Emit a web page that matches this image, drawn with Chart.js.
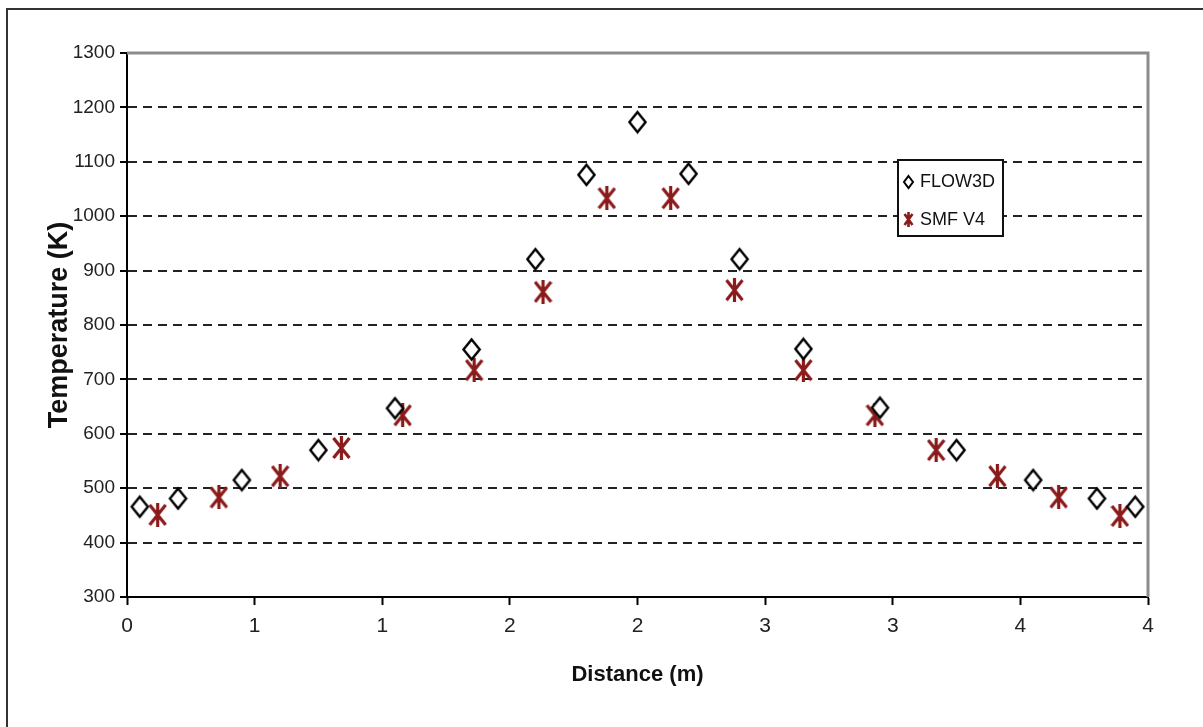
<!DOCTYPE html>
<html>
<head>
<meta charset="utf-8">
<title>Temperature vs Distance</title>
<script src="https://cdn.jsdelivr.net/npm/chart.js@4.4.1/dist/chart.umd.min.js"></script>
<style>
    html, body { margin: 0; padding: 0; background: #fff; }
    #chartBox { width: 1203px; height: 727px; }
</style>
</head>
<body>
<div id="chartBox"><canvas id="tempChart" width="1203" height="727"></canvas></div>
<script>
// valores
const flowDistance = [0.05, 0.2, 0.45, 0.75, 1.05, 1.35, 1.6, 1.8, 2.0, 2.2, 2.4, 2.65, 2.95, 3.25, 3.55, 3.8, 3.95];
const flowTemp = [466, 481, 515, 570, 647, 755, 921, 1076, 1173, 1078, 921, 756, 648, 570, 515, 481, 466];

const smfDistance = [0.12, 0.36, 0.6, 0.84, 1.08, 1.36, 1.63, 1.88, 2.13, 2.38, 2.65, 2.93, 3.17, 3.41, 3.65, 3.89];
const smfTemp = [451, 483, 522, 574, 634, 717, 861, 1033, 1033, 864, 717, 634, 570, 522, 483, 449];

const xTickLabels = ['0', '1', '1', '2', '2', '3', '3', '4', '4'];
const seriesNames = ['FLOW3D', 'SMF V4'];

const darkRed = '#8b1a1a';

function makeDiamond(w, h, lw) {
    const c = document.createElement('canvas');
    c.width = w; c.height = h;
    const g = c.getContext('2d');
    g.fillStyle = '#fff';
    g.strokeStyle = '#000';
    g.lineWidth = lw;
    g.beginPath();
    g.moveTo(w / 2, lw);
    g.lineTo(w - lw, h / 2);
    g.lineTo(w / 2, h - lw);
    g.lineTo(lw, h / 2);
    g.closePath();
    g.fill();
    g.stroke();
    return c;
}

function makeStar(w, h, lw) {
    const c = document.createElement('canvas');
    c.width = w; c.height = h;
    const g = c.getContext('2d');
    g.strokeStyle = darkRed;
    g.lineWidth = lw;
    g.lineCap = 'butt';
    g.beginPath();
    g.moveTo(w / 2, 0); g.lineTo(w / 2, h);
    g.moveTo(1.5, 2); g.lineTo(w - 1.5, h - 2);
    g.moveTo(w - 1.5, 2); g.lineTo(1.5, h - 2);
    g.stroke();
    return c;
}

const diamondImg = makeDiamond(21, 25, 2.4);
const starImg = makeStar(19, 24, 3.2);
const diamondSmall = makeDiamond(13, 16, 2);
const starSmall = makeStar(11, 15, 2.6);

const frameAndLegend = {
    id: 'frameAndLegend',
    beforeDraw(chart) {
        const c = chart.ctx;
        c.save();
        c.strokeStyle = '#333';
        c.lineWidth = 2;
        c.beginPath();
        c.moveTo(7, 740);
        c.lineTo(7, 9);
        c.lineTo(1210, 9);
        c.stroke();
        c.restore();
    },
    afterDatasetsDraw(chart) {
        const c = chart.ctx;
        const a = chart.chartArea;
        c.save();
        c.strokeStyle = '#8c8c8c';
        c.lineWidth = 3;
        c.beginPath();
        c.moveTo(a.left, a.top);
        c.lineTo(a.right, a.top);
        c.lineTo(a.right, a.bottom);
        c.stroke();

        // caixa da legenda
        c.fillStyle = '#fff';
        c.fillRect(898, 160, 105, 76);
        c.strokeStyle = '#111';
        c.lineWidth = 2;
        c.strokeRect(898, 160, 105, 76);
        c.drawImage(diamondSmall, 902, 174);
        c.drawImage(starSmall, 903, 212);
        c.fillStyle = '#111';
        c.font = '18px "Liberation Sans", Arial, sans-serif';
        c.textBaseline = 'middle';
        c.fillText(seriesNames[0], 920, 182);
        c.fillText(seriesNames[1], 920, 220);
        c.restore();
    }
};

const ctx = document.getElementById('tempChart').getContext('2d');
const tempChart = new Chart(ctx, {
    type: 'scatter',
    data: {
        datasets: [{
            label: seriesNames[0],
            data: flowDistance.map((d, i) => ({ x: d, y: flowTemp[i] })),
            pointStyle: diamondImg,
            pointRadius: 11
        }, {
            label: seriesNames[1],
            data: smfDistance.map((d, i) => ({ x: d, y: smfTemp[i] })),
            pointStyle: starImg,
            pointRadius: 11
        }]
    },
    plugins: [frameAndLegend],
    options: {
        responsive: false,
        animation: false,
        layout: {
            padding: { left: 0, top: 53, right: 55, bottom: 0 }
        },
        plugins: {
            legend: { display: false },
            tooltip: { enabled: false }
        },
        scales: {
            x: {
                type: 'linear',
                min: 0,
                max: 4,
                afterFit: function(scale) { scale.height = 130; },
                afterBuildTicks: function(scale) {
                    scale.ticks = xTickLabels.map((t, i) => ({ value: i * 0.5 }));
                },
                ticks: {
                    color: '#222',
                    padding: 9,
                    font: { size: 21, family: '"Liberation Sans", Arial, sans-serif' },
                    callback: function(value, index) {
                        return xTickLabels[index];
                    }
                },
                grid: {
                    drawOnChartArea: false,
                    drawTicks: true,
                    tickLength: 8,
                    tickColor: '#000',
                    tickWidth: 2
                },
                border: { display: true, color: '#000', width: 2 },
                title: {
                    display: true,
                    text: 'Distance (m)',
                    color: '#111',
                    padding: { top: 0, bottom: 39 },
                    font: { size: 22, weight: 'bold', family: '"Liberation Sans", Arial, sans-serif' }
                }
            },
            y: {
                min: 300,
                max: 1300,
                afterFit: function(scale) { scale.width = 127; },
                ticks: {
                    stepSize: 100,
                    color: '#222',
                    padding: 5,
                    font: { size: 19, family: '"Liberation Sans", Arial, sans-serif' },
                    callback: function(value) {
                        return String(value);
                    }
                },
                grid: {
                    color: function(context) {
                        const v = context.tick ? context.tick.value : null;
                        return (v === 300 || v === 1300) ? 'rgba(0,0,0,0)' : '#222';
                    },
                    lineWidth: 2,
                    tickLength: 7,
                    tickColor: '#000',
                    tickWidth: 2,
                    tickBorderDash: []
                },
                border: { display: true, color: '#000', width: 2, dash: [9, 6] },
                title: {
                    display: true,
                    text: 'Temperature (K)',
                    color: '#111',
                    padding: { top: 43, bottom: 0 },
                    font: { size: 27, weight: 'bold', family: '"Liberation Sans", Arial, sans-serif' }
                }
            }
        }
    }
});
</script>
</body>
</html>
